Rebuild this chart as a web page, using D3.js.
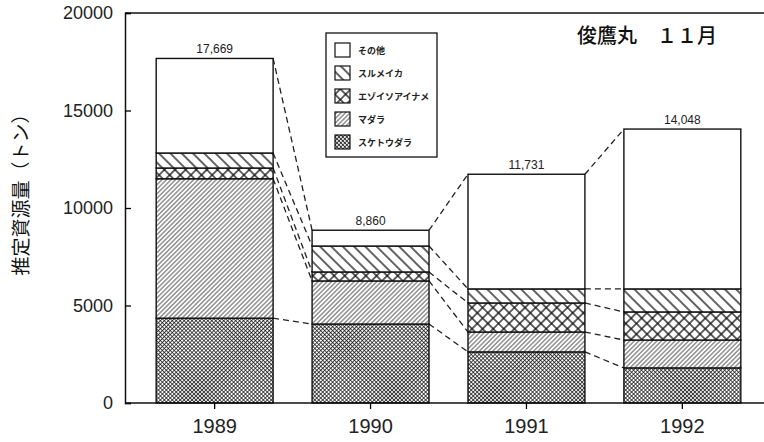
<!DOCTYPE html>
<html>
<head>
<meta charset="utf-8">
<script src="https://cdn.jsdelivr.net/npm/d3@7"></script>
<style>
    body { margin: 0; background: #fff; }
    svg { display: block; font-family: "Liberation Sans", Arial, sans-serif; }
    .jp { font-family: "Noto Sans CJK JP", sans-serif; }
</style>
</head>
<body>
<svg id="chart" width="764" height="442"></svg>
<script>
// Data (tonnes), bottom to top of each stack
var years = ['1989', '1990', '1991', '1992'];
var species = ['スケトウダラ', 'マダラ', 'エゾイソアイナメ', 'スルメイカ', 'その他'];
var sukesou = [4350, 4050, 2620, 1800];
var madara = [7150, 2210, 1020, 1430];
var ezoiso = [550, 460, 1490, 1440];
var surume = [770, 1330, 720, 1180];
var sonota = [4849, 810, 5881, 8198];
var totals = [17669, 8860, 11731, 14048];
var yTicks = [0, 5000, 10000, 15000, 20000];

var series = [sukesou, madara, ezoiso, surume, sonota];
var table = years.map((y, i) => {
    var row = {year: y};
    species.forEach((s, k) => row[s] = series[k][i]);
    return row;
});
var stacked = d3.stack().keys(species)(table);

var graph = d3.select('#chart');

// Hatch patterns:
var defs = graph.append('defs');
function hatch(id, size, angle, width, cross) {
    var p = defs.append('pattern').attr('id', id)
                .attr('patternUnits', 'userSpaceOnUse')
                .attr('width', size).attr('height', size)
                .attr('patternTransform', 'rotate(' + angle + ')');
    p.append('rect').attr('width', size).attr('height', size).attr('fill', '#fff');
    p.append('line').attr('x1', size / 2).attr('x2', size / 2)
     .attr('y1', 0).attr('y2', size)
     .attr('stroke', '#111').attr('stroke-width', width);
    if (cross)
        p.append('line').attr('y1', size / 2).attr('y2', size / 2)
         .attr('x1', 0).attr('x2', size)
         .attr('stroke', '#111').attr('stroke-width', width);
}
hatch('p-suke', 2.8, 45, 0.75, true);
hatch('p-madara', 3.2, 45, 0.7, false);
hatch('p-ezo', 7.5, 45, 1.3, true);
hatch('p-surume', 8, -45, 1.3, false);
var fills = ['url(#p-suke)', 'url(#p-madara)', 'url(#p-ezo)', 'url(#p-surume)', '#fff'];

// Scales:
var xScale = d3.scaleBand().domain(years).range([125, 772])
                           .paddingInner(0.25).paddingOuter(0.2);
var yScale = d3.scaleLinear().domain([0, 20000]).range([403, 13]);

// Frame lines:
graph.append('line').attr('x1', 125).attr('x2', 764).attr('y1', yScale(20000)).attr('y2', yScale(20000))
     .attr('stroke', '#111').attr('stroke-width', 1.5);

// Dashed connectors between adjacent bars:
var conn = graph.append('g').attr('stroke', '#222').attr('stroke-width', 1.3)
                            .attr('stroke-dasharray', '6,4').attr('fill', 'none');
stacked.forEach(layer => {
    for (var i = 0; i < years.length - 1; i++)
        conn.append('line')
            .attr('x1', xScale(years[i]) + xScale.bandwidth())
            .attr('y1', yScale(layer[i][1]))
            .attr('x2', xScale(years[i + 1]))
            .attr('y2', yScale(layer[i + 1][1]));
});

// The bars:
graph.append('g').selectAll('g').data(stacked).join('g')
     .attr('fill', (d, k) => fills[k])
     .selectAll('rect').data(d => d).join('rect')
     .attr('x', d => xScale(d.data.year))
     .attr('y', d => yScale(d[1]))
     .attr('width', xScale.bandwidth())
     .attr('height', d => yScale(d[0]) - yScale(d[1]))
     .attr('stroke', '#111').attr('stroke-width', 1.4);

// Totals above bars:
graph.append('g').attr('text-anchor', 'middle').attr('font-size', 12).attr('fill', '#222')
     .selectAll('text').data(totals).join('text')
     .attr('x', (d, i) => xScale(years[i]) + xScale.bandwidth() / 2)
     .attr('y', d => yScale(d) - 5)
     .text(d => d3.format(',')(d));

// Axes:
var yAxis = graph.append('g').attr('transform', 'translate(125,0)')
                 .call(d3.axisRight(yScale).tickValues(yTicks).tickSize(6).tickFormat(d => d));
yAxis.select('.domain').attr('stroke-width', 1.5).attr('stroke', '#111');
yAxis.selectAll('.tick line').attr('stroke-width', 1.3);
yAxis.selectAll('.tick text').attr('x', -12).attr('text-anchor', 'end')
     .attr('font-size', 18).attr('fill', '#222').attr('font-family', null);

var xAxis = graph.append('g').attr('transform', 'translate(0,403)')
                 .call(d3.axisBottom(xScale).tickSize(6).tickSizeOuter(0));
xAxis.select('.domain').attr('d', 'M125,0H764').attr('stroke-width', 1.5).attr('stroke', '#111');
xAxis.selectAll('.tick line').attr('stroke-width', 1.3);
xAxis.selectAll('.tick text').attr('y', 16).attr('font-size', 20).attr('fill', '#222')
     .attr('font-family', null);

// Legend:
var legend = graph.append('g').attr('transform', 'translate(326,33)');
legend.append('rect').attr('width', 111).attr('height', 124)
      .attr('fill', '#fff').attr('stroke', '#111').attr('stroke-width', 1.3);
var items = legend.selectAll('g.item').data(species.slice().reverse()).join('g')
                  .attr('transform', (d, i) => 'translate(9,' + (10 + i * 23) + ')');
items.append('rect').attr('width', 15).attr('height', 14)
     .attr('fill', (d, i) => fills[species.length - 1 - i])
     .attr('stroke', '#111').attr('stroke-width', 1.2);
items.append('text').classed('jp', true).attr('x', 23).attr('y', 11)
     .attr('font-size', 9).attr('font-weight', 700).attr('fill', '#222')
     .text(d => d);

// Title:
graph.append('text').classed('jp', true).attr('x', 577).attr('y', 43)
     .attr('font-size', 20).attr('font-weight', 500).attr('fill', '#111').text('俊鷹丸　１１月');

// Y label:
graph.append('text').classed('jp', true)
     .attr('transform', 'translate(28,190) rotate(-90)')
     .attr('text-anchor', 'middle').attr('font-size', 19).attr('fill', '#111')
     .text('推定資源量（トン）');
</script>
</body>
</html>
